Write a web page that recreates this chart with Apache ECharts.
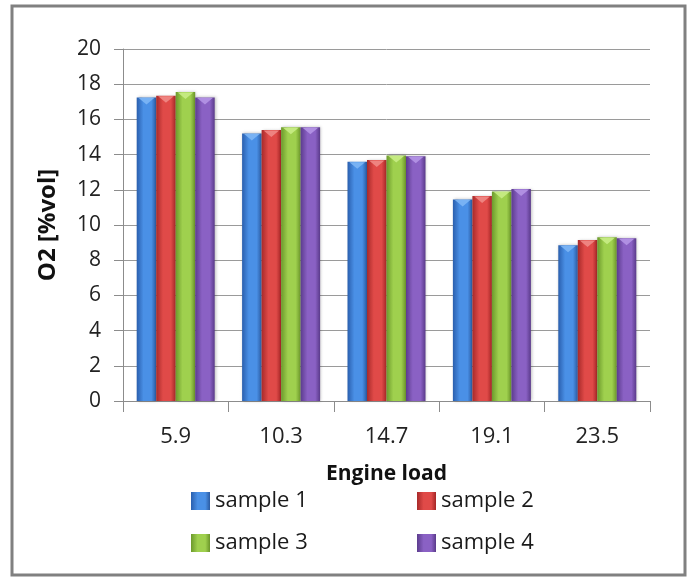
<!DOCTYPE html>
<html>
<head>
<meta charset="utf-8">
<style>
  html, body { margin: 0; padding: 0; background: #ffffff; }
  #chart { width: 691px; height: 577px; }
</style>
<script src="https://cdn.jsdelivr.net/npm/echarts@6/dist/echarts.min.js"></script>
</head>
<body>
<div id="chart"></div>
<script>
// Engine load categories and O2 readings per sample
const categories = ['5.9', '10.3', '14.7', '19.1', '23.5'];
const sample1 = [17.25, 15.2, 13.6, 11.45, 8.85];
const sample2 = [17.35, 15.4, 13.7, 11.65, 9.15];
const sample3 = [17.55, 15.55, 13.95, 11.9, 9.3];
const sample4 = [17.25, 15.55, 13.9, 12.05, 9.25];
const yTicks = { min: 0, max: 20, interval: 2 };

const seriesNames = ['sample 1', 'sample 2', 'sample 3', 'sample 4'];
const seriesValues = [sample1, sample2, sample3, sample4];

// shaded column palette: [dark edge, highlight, right edge, cap]
const palette = [
  ['#2a5fae', '#4a90e6', '#2b5aa0', '#7db6f5'],
  ['#a82a2a', '#e04a48', '#a42626', '#f08a86'],
  ['#6c9a2c', '#9fd04e', '#6b952a', '#c8ec86'],
  ['#5c3c8e', '#8a61c4', '#5a3a8a', '#b495e6']
];

function columnGradient(p) {
  return new echarts.graphic.LinearGradient(0, 0, 1, 0, [
    { offset: 0, color: p[0] },
    { offset: 0.35, color: p[1] },
    { offset: 0.75, color: p[1] },
    { offset: 1, color: p[2] }
  ]);
}

const CAT_GAP = 0.26;
const FONT = "'Open Sans', 'DejaVu Sans', sans-serif";

const barSeries = seriesNames.map((name, i) => ({
  name: name,
  type: 'bar',
  data: seriesValues[i],
  barGap: '0%',
  barCategoryGap: (CAT_GAP * 100) + '%',
  itemStyle: {
    color: columnGradient(palette[i]),
    shadowColor: 'rgba(0,0,0,0.25)',
    shadowBlur: 3,
    shadowOffsetX: 1
  }
}));

// bevelled caps on top of each column, placed with the axis scales
const capData = [];
seriesValues.forEach((vals, s) => {
  vals.forEach((v, c) => capData.push([c, v, s]));
});

const capSeries = {
  type: 'custom',
  name: 'caps',
  silent: true,
  z: 5,
  data: capData,
  encode: { x: 0, y: 1 },
  renderItem: function (params, api) {
    const c = api.value(0);
    const v = api.value(1);
    const s = api.value(2);
    const top = api.coord([c, v]);
    const band = api.size([1, 0])[0];
    const groupW = band * (1 - CAT_GAP);
    const barW = groupW / 4;
    const x0 = top[0] - groupW / 2 + s * barW;
    const y = top[1];
    return {
      type: 'polygon',
      shape: {
        points: [
          [x0 + 2, y + 0.5],
          [x0 + barW - 2, y + 0.5],
          [x0 + barW / 2, y + 7]
        ]
      },
      style: { fill: palette[s][3], opacity: 0.9 }
    };
  }
};

// one legend entry per slot, laid out as a 2 x 2 block
const legendSlots = [
  { name: 'sample 1', left: 191, top: 490 },
  { name: 'sample 2', left: 417, top: 490 },
  { name: 'sample 3', left: 191, top: 532 },
  { name: 'sample 4', left: 417, top: 532 }
];

const legends = legendSlots.map(slot => ({
  data: [slot.name],
  left: slot.left,
  top: slot.top,
  itemWidth: 19,
  itemHeight: 18,
  itemGap: 0,
  padding: 0,
  icon: 'rect',
  selectedMode: false,
  textStyle: { fontFamily: FONT, fontSize: 22, color: '#1a1a1a' }
}));

const chart = echarts.init(document.getElementById('chart'), null, { renderer: 'canvas' });

chart.setOption({
  backgroundColor: '#ffffff',
  animation: false,
  grid: { left: 123, right: 41, top: 49, bottom: 176, containLabel: false },
  legend: legends,
  xAxis: {
    type: 'category',
    data: categories,
    name: 'Engine load',
    nameLocation: 'middle',
    nameGap: 63,
    nameTextStyle: { fontFamily: FONT, fontSize: 21, fontWeight: 'bold', color: '#111' },
    axisLine: { lineStyle: { color: '#8c8c8c', width: 1 } },
    axisTick: { show: true, length: 11, alignWithLabel: false, lineStyle: { color: '#8c8c8c' } },
    axisLabel: { fontFamily: FONT, fontSize: 22, color: '#222', margin: 25 }
  },
  yAxis: {
    type: 'value',
    min: yTicks.min,
    max: yTicks.max,
    interval: yTicks.interval,
    name: 'O2 [%vol]',
    nameLocation: 'middle',
    nameGap: 63,
    nameRotate: 90,
    nameTextStyle: { fontFamily: FONT, fontSize: 24, fontWeight: 'bold', color: '#111' },
    axisLine: { show: true, lineStyle: { color: '#8c8c8c', width: 1 } },
    axisTick: { show: true, length: 9, lineStyle: { color: '#8c8c8c' } },
    axisLabel: { fontFamily: FONT, fontSize: 21, color: '#222', margin: 22 },
    splitLine: { show: true, lineStyle: { color: '#9a9a9a', width: 1 } }
  },
  graphic: [{
    type: 'rect',
    shape: { x: 12, y: 6, width: 673, height: 569 },
    style: { fill: 'none', stroke: '#808080', lineWidth: 3 },
    silent: true,
    z: 100
  }],
  series: barSeries.concat([capSeries])
});
</script>
</body>
</html>
